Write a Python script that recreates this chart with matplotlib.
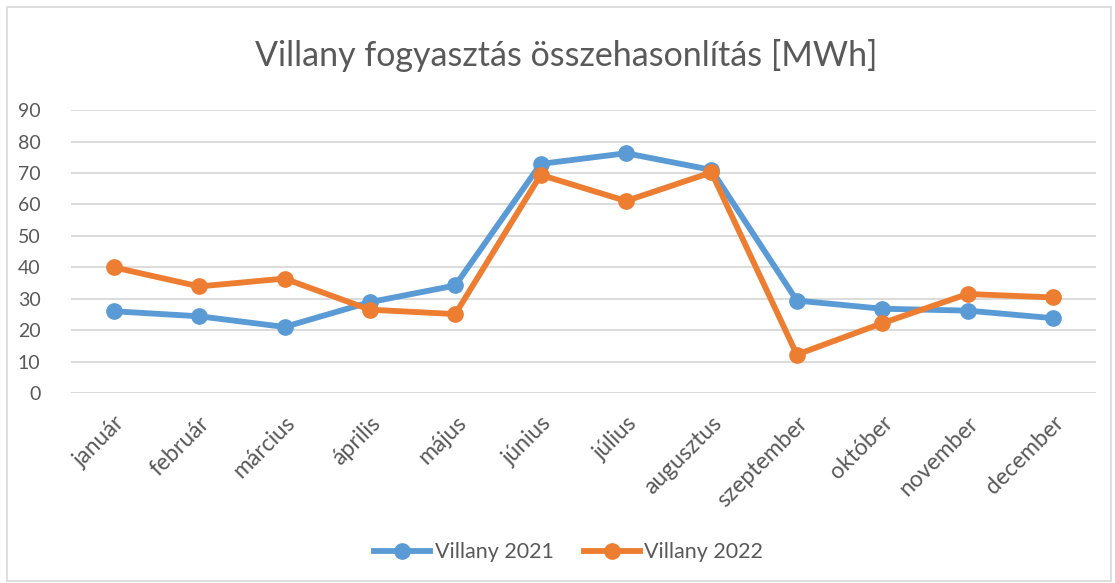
import matplotlib
matplotlib.use("Agg")
import matplotlib.pyplot as plt
from matplotlib.patches import Rectangle

# Data
honapok = ['január', 'február', 'március', 'április', 'május', 'június',
           'július', 'augusztus', 'szeptember', 'október', 'november', 'december']
villany_2021 = [26.0, 24.4, 21.0, 28.9, 34.2, 72.9, 76.3, 71.0, 29.4, 26.8, 26.2, 23.8]
villany_2022 = [40.0, 33.9, 36.4, 26.5, 25.1, 69.4, 61.1, 70.2, 12.2, 22.2, 31.5, 30.4]
y_ticks = [0, 10, 20, 30, 40, 50, 60, 70, 80, 90]

plt.rcParams['font.family'] = ['Lato', 'DejaVu Sans']
text_color = '#595959'
blue = '#5B9BD5'
orange = '#ED7D31'

fig = plt.figure(figsize=(11.15, 5.83), dpi=100)
ax = fig.add_axes([0.0637, 0.326, 0.919, 0.485])

x = list(range(len(honapok)))
ax.plot(x, villany_2021, color=blue, lw=4.2, marker='o', ms=11, label='Villany 2021')
ax.plot(x, villany_2022, color=orange, lw=4.2, marker='o', ms=11, label='Villany 2022')

ax.set_xlim(-0.5, len(honapok) - 0.5)
ax.set_ylim(0, 90)
ax.set_yticks(y_ticks)
ax.set_xticks(x)
ax.set_xticklabels(honapok, rotation=45, ha='right', rotation_mode='anchor',
                   fontsize=16.5)
ax.tick_params(axis='both', length=0, colors=text_color)
ax.tick_params(axis='y', pad=22, labelsize=14)
ax.tick_params(axis='x', pad=14)

# Horizontal gridlines only
ax.yaxis.grid(True, color='#D9D9D9', lw=1.3)
ax.set_axisbelow(True)
for s in ax.spines.values():
    s.set_visible(False)

fig.text(0.508, 1 - 66 / 583, 'Villany fogyasztás összehasonlítás [MWh]',
         ha='center', va='baseline', fontsize=24.5, color=text_color)

fig.legend(loc='center', bbox_to_anchor=(0.51, 0.053), ncol=2, frameon=False,
           fontsize=15.5, labelcolor=text_color, handlelength=2.6,
           columnspacing=1.4, handletextpad=0.2)

# Chart border
fig.patches.append(Rectangle((0.006, 0.003), 0.99, 0.985, transform=fig.transFigure,
                             fill=False, edgecolor='#D9D9D9', lw=1.2))

fig.savefig('out.png', dpi=100)
